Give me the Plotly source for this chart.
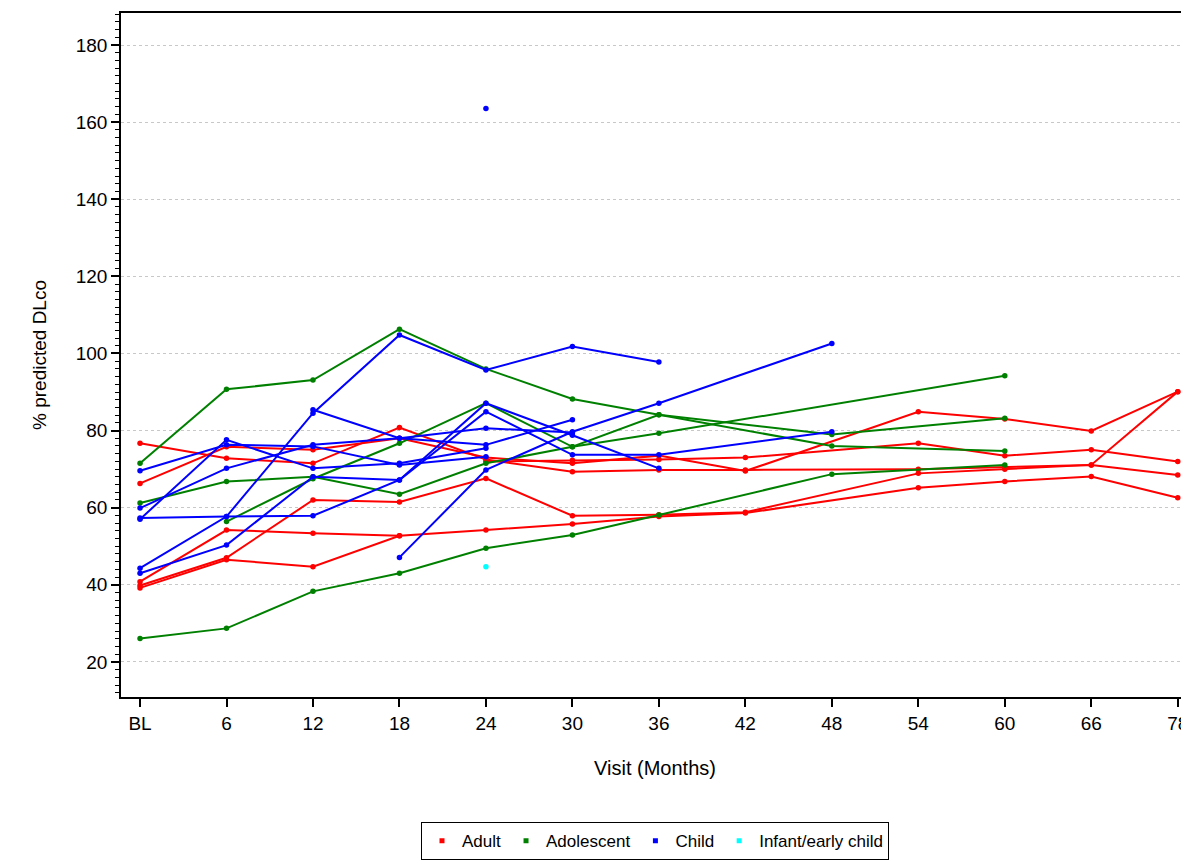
import plotly.graph_objects as go

# ---- data ----
visits = ["BL", "6", "12", "18", "24", "30", "36", "42", "48", "54", "60", "66", "78"]
N = None

# Adult (red)
adult_1 = [76.7, 72.8, 71.5, 80.8, 72.5, 69.3, 69.8, 69.8, N, 70.0, 70.5, 71.1, 68.5]
adult_2 = [66.3, 75.8, 75.0, 78.0, 73.0, 71.5, 73.5, 69.5, N, 84.9, 83.0, 79.9, 90.1]
adult_3 = [N, N, N, N, 72.0, 72.3, 72.5, 73.0, N, 76.7, 73.5, 75.0, 72.0]
adult_4 = [39.8, 47.0, 62.0, 61.5, 67.6, 57.9, 58.2, 58.8, N, 68.9, 70.0, 71.1, 90.1]
adult_5 = [39.2, 46.5, 44.7, 52.7, 54.2, 55.8, 57.7, 58.6, N, 65.2, 66.8, 68.1, 62.6]
adult_6 = [40.8, 54.2, 53.4, 52.7, N, N, N, N, N, N, N, N, N]

# Adolescent (green)
adol_1 = [71.5, 90.7, 93.1, 106.3, 96.0, 88.2, 84.1, N, 76.0, N, 74.7, N, N]
adol_2 = [61.2, 66.8, 68.0, 63.5, 71.5, 75.8, 79.3, N, N, N, 94.2, N, N]
adol_3 = [N, 56.4, 67.5, 76.7, 87.1, 75.8, 84.1, N, 79.0, N, 83.2, N, N]
adol_4 = [26.1, 28.7, 38.3, 43.0, 49.5, 52.9, 58.1, N, 68.7, N, 71.1, N, N]

# Child (blue)
child_1 = [44.3, 57.7, 84.5, 104.8, 95.7, 101.8, 97.8, N, N, N, N, N, N]
child_2 = [N, N, 85.4, 78.0, 76.3, 82.8, N, N, N, N, N, N, N]
child_3 = [43.0, 50.3, 68.0, 67.2, 84.9, 73.7, 73.7, N, 79.7, N, N, N, N]
child_4 = [57.3, 57.7, 57.9, 67.2, 87.1, 78.8, 70.2, N, N, N, N, N, N]
child_5 = [69.6, 76.3, 75.9, 71.1, 73.2, N, N, N, N, N, N, N, N]
child_6 = [57.0, 77.6, 70.2, 71.5, 75.4, N, N, N, N, N, N, N, N]
child_7 = [59.9, 70.2, 76.3, 78.0, 80.6, 79.5, N, N, N, N, N, N, N]
child_8 = [N, N, N, 47.1, 69.8, 79.7, 87.1, N, 102.6, N, N, N, N]
child_9 = [N, N, N, N, 163.5, N, N, N, N, N, N, N, N]

# Infant/early child (cyan)
infant_1 = [N, N, N, N, 44.7, N, N, N, N, N, N, N, N]

groups = [
    ("Adult", "#FF0000", [adult_1, adult_2, adult_3, adult_4, adult_5, adult_6]),
    ("Adolescent", "#008000", [adol_1, adol_2, adol_3, adol_4]),
    ("Child", "#0000FF", [child_1, child_2, child_3, child_4, child_5, child_6,
                          child_7, child_8, child_9]),
    ("Infant/early child", "#00FFFF", [infant_1]),
]

xs = list(range(len(visits)))
fig = go.Figure()

for name, color, series in groups:
    for s in series:
        fig.add_trace(go.Scatter(
            x=xs, y=s, mode="lines+markers", connectgaps=True,
            line=dict(color=color, width=2),
            marker=dict(color=color, size=5.5),
            showlegend=False, hoverinfo="skip"))

for name, color, series in groups:
    fig.add_trace(go.Scatter(
        x=[None], y=[None], mode="markers", name=name,
        marker=dict(color=color, size=5, symbol="square")))

sans = "Liberation Sans, Arial, sans-serif"

fig.update_layout(
    width=1181, height=853,
    margin=dict(l=113, r=0, t=5, b=164, autoexpand=False),
    paper_bgcolor="white", plot_bgcolor="white",
    font=dict(family=sans, color="black", size=18),
    showlegend=True,
    legend=dict(
        orientation="h", x=0.5, xanchor="center", y=-0.183, yanchor="top",
        bordercolor="black", borderwidth=1, bgcolor="white",
        font=dict(family=sans, size=17), itemwidth=30,
        traceorder="normal"),
    xaxis=dict(
        range=[-0.22, 12.13], tickmode="array", tickvals=xs, ticktext=visits,
        showgrid=False, zeroline=False, automargin=False,
        showline=True, linecolor="black", linewidth=1.5, mirror=True,
        ticks="outside", ticklen=8, tickwidth=1.5, tickcolor="black",
        tickfont=dict(family=sans, size=19),
        title=dict(text="Visit (Months)", font=dict(family=sans, size=20), standoff=28)),
    yaxis=dict(
        range=[10.9, 188.3], tickvals=[20, 40, 60, 80, 100, 120, 140, 160, 180],
        showgrid=True, gridcolor="#c8c8c8", griddash="dot", gridwidth=1,
        zeroline=False, automargin=False,
        showline=True, linecolor="black", linewidth=1.5,
        ticks="outside", ticklen=8, tickwidth=1.5, tickcolor="black",
        minor=dict(dtick=2, ticks="outside", ticklen=4, tickwidth=1.2,
                   tickcolor="black", showgrid=False),
        tickfont=dict(family=sans, size=19),
        title=dict(text="% predicted DLco",
                   font=dict(family=sans, size=19),
                   standoff=24)),
)

fig.write_html("out.html")
